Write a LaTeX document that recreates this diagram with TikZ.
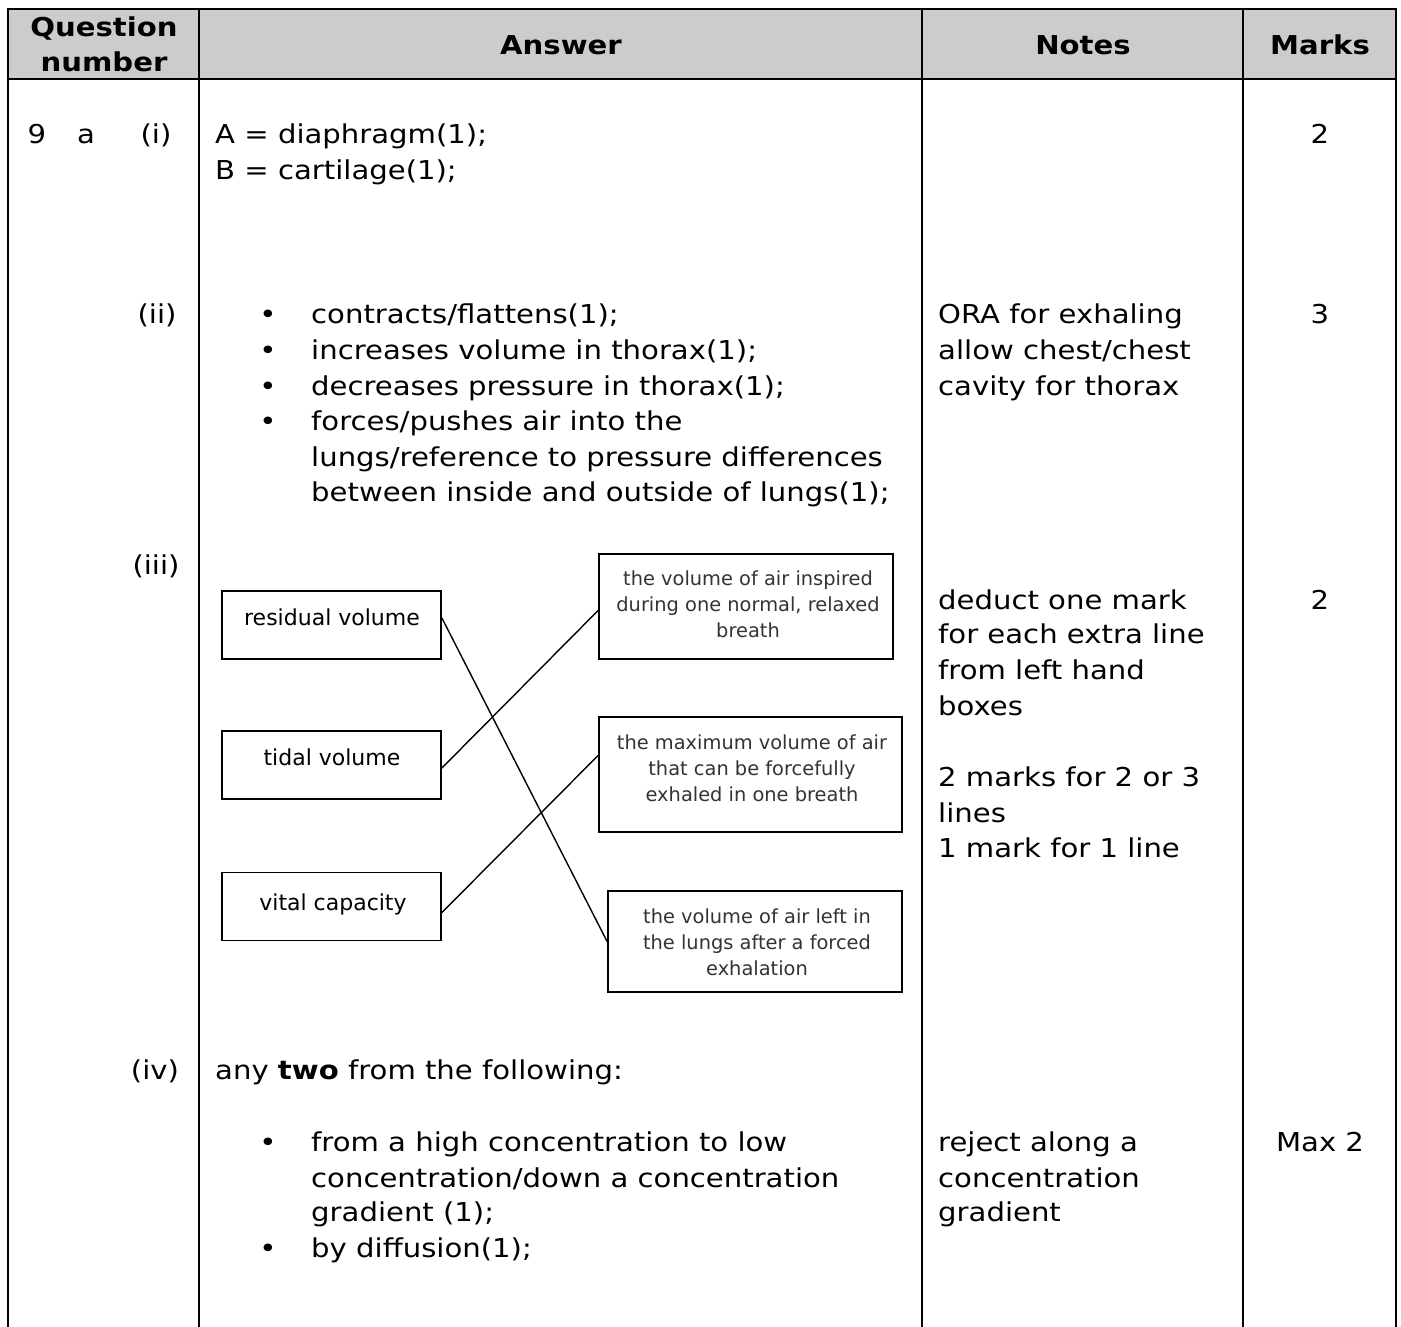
\documentclass[tikz,border=0pt]{standalone}
\usepackage{fontspec}
\setmainfont[FakeStretch=1.12]{DejaVu Sans}
\newfontfamily\boxfont{DejaVu Sans}
\usetikzlibrary{calc}
\definecolor{hdrgray}{HTML}{CCCCCC}
\definecolor{smalltext}{HTML}{333333}
\tikzset{
  gridline/.style={line width=2pt, line cap=rect},
  txt/.style={inner sep=0pt, anchor=mid west, yshift=-7pt, font=\fontsize{26}{31}\selectfont},
  ctxt/.style={txt, anchor=mid},
  hdr/.style={ctxt, font=\fontsize{26}{31}\selectfont\bfseries},
  bul/.style={ctxt},
  lbox/.style={draw, line width=1.8pt, inner sep=0pt, minimum width=219pt},
  rbox/.style={draw, line width=1.8pt, inner sep=0pt},
  ltxt/.style={inner sep=0pt, anchor=mid, yshift=-6pt, font=\boxfont\fontsize{22}{26}\selectfont},
  rtxt/.style={inner sep=0pt, anchor=mid, yshift=-5pt, text=smalltext, font=\boxfont\fontsize{19.4}{26}\selectfont},
  link/.style={line width=1.4pt}
}
\begin{document}
\begin{tikzpicture}[x=1pt,y=-1pt]
\useasboundingbox (0,0) rectangle (1401,1326);
% header band
\fill[hdrgray] (8,9) rectangle (1396,79);
% grid
\draw[gridline] (8,1326) -- (8,9) -- (1396,9) -- (1396,1326);
\draw[gridline] (8,79) -- (1396,79);
\draw[gridline] (199,9) -- (199,1326);
\draw[gridline] (922,9) -- (922,1326);
\draw[gridline] (1243,9) -- (1243,1326);
% header text
\node[hdr] (hq1) at (104,27) {Question};
\node[hdr] (hq2) at (104,62) {number};
\node[hdr] (ha) at (561,45) {Answer};
\node[hdr] (hn) at (1083,45) {Notes};
\node[hdr] (hm) at (1320,45) {Marks};
% question numbers
\node[ctxt] (q9) at (37,134) {9};
\node[ctxt] (qa) at (86,134) {a};
\node[ctxt] (qi) at (156,134) {(i)};
\node[ctxt] (qii) at (157,314) {(ii)};
\node[ctxt] (qiii) at (156,565) {(iii)};
\node[ctxt] (qiv) at (155,1070) {(iv)};
% (i)
\node[txt] (a1) at (215,134) {A = diaphragm(1);};
\node[txt] (a2) at (215,170) {B = cartilage(1);};
\node[ctxt] (m1) at (1320,134) {2};
% (ii)
\node[bul] (b1a) at (268,314) {•};
\node[bul] (b1b) at (268,350) {•};
\node[bul] (b1c) at (268,386) {•};
\node[bul] (b1d) at (268,421) {•};
\node[txt] (t1a) at (311,314) {contracts/flattens(1);};
\node[txt] (t1b) at (311,350) {increases volume in thorax(1);};
\node[txt] (t1c) at (311,386) {decreases pressure in thorax(1);};
\node[txt] (t1d) at (311,421) {forces/pushes air into the};
\node[txt] (t1e) at (311,457) {lungs/reference to pressure differences};
\node[txt] (t1f) at (311,492) {between inside and outside of lungs(1);};
\node[txt] (n1a) at (938,314) {ORA for exhaling};
\node[txt] (n1b) at (938,350) {allow chest/chest};
\node[txt] (n1c) at (938,386) {cavity for thorax};
\node[ctxt] (m2) at (1320,314) {3};
% (iii) matching
\node[lbox, minimum height=68pt] (res) at (331.5,625) {};
\node[lbox, minimum height=68pt] (tid) at (331.5,765) {};
\node[lbox, minimum height=68pt] (vit) at (331.5,906.5) {};
\node[ltxt] (resl) at (332,617) {residual volume};
\node[ltxt] (tidl) at (332,757) {tidal volume};
\node[ltxt] (vitl) at (333,902) {vital capacity};
\node[rbox, minimum width=294pt, minimum height=105pt] (d1) at (746,606.5) {};
\node[rbox, minimum width=303pt, minimum height=115pt] (d2) at (750.5,774.5) {};
\node[rbox, minimum width=294pt, minimum height=101pt] (d3) at (755,941.5) {};
\node[rtxt] (d1a) at (748,578) {the volume of air inspired};
\node[rtxt] (d1b) at (748,604) {during one normal, relaxed};
\node[rtxt] (d1c) at (748,630) {breath};
\node[rtxt] (d2a) at (752,742) {the maximum volume of air};
\node[rtxt] (d2b) at (752,768) {that can be forcefully};
\node[rtxt] (d2c) at (752,794) {exhaled in one breath};
\node[rtxt] (d3a) at (757,916) {the volume of air left in};
\node[rtxt] (d3b) at (757,942) {the lungs after a forced};
\node[rtxt] (d3c) at (757,968) {exhalation};
\draw[link] ([yshift=7pt]res.east) -- (d3.west);
\draw[link] ([yshift=-3pt]tid.east) -- ([yshift=-4pt]d1.west);
\draw[link] ([yshift=-6pt]vit.east) -- ([yshift=19pt]d2.west);
\node[txt] (n2a) at (938,600) {deduct one mark};
\node[txt] (n2b) at (938,634) {for each extra line};
\node[txt] (n2c) at (938,670) {from left hand};
\node[txt] (n2d) at (938,706) {boxes};
\node[txt] (n2e) at (938,777) {2 marks for 2 or 3};
\node[txt] (n2f) at (938,813) {lines};
\node[txt] (n2g) at (938,848) {1 mark for 1 line};
\node[ctxt] (m3) at (1320,600) {2};
% (iv)
\node[txt] (t4) at (215,1070) {any \textbf{two} from the following:};
\node[bul] (b4a) at (268,1142) {•};
\node[bul] (b4b) at (268,1248) {•};
\node[txt] (t4a) at (311,1142) {from a high concentration to low};
\node[txt] (t4b) at (311,1178) {concentration/down a concentration};
\node[txt] (t4c) at (311,1212) {gradient (1);};
\node[txt] (t4d) at (311,1248) {by diffusion(1);};
\node[txt] (n4a) at (938,1142) {reject along a};
\node[txt] (n4b) at (938,1178) {concentration};
\node[txt] (n4c) at (938,1212) {gradient};
\node[ctxt] (m4) at (1320,1142) {Max 2};
\end{tikzpicture}
\end{document}
